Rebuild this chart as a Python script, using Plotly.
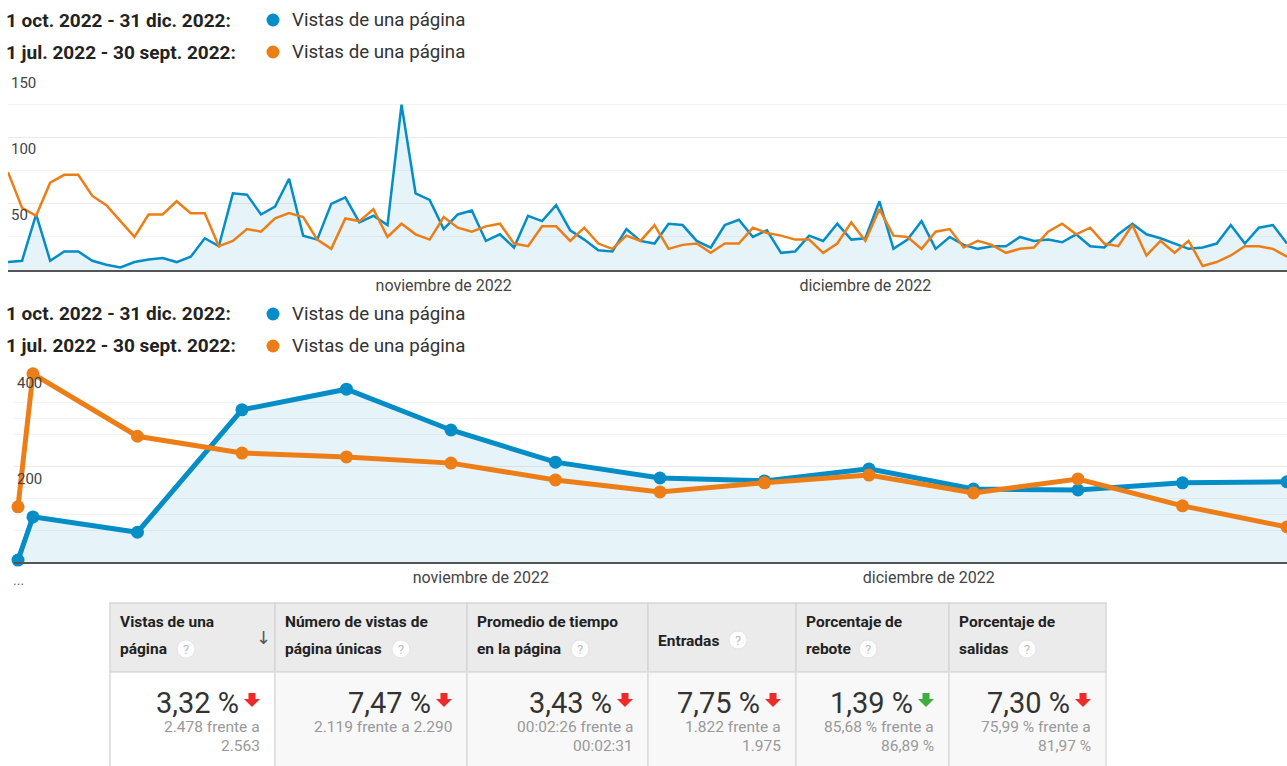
import pandas as pd
import plotly.graph_objects as go

# ---------------- data ----------------
daily_dates = pd.date_range("2022-10-01", "2022-12-31", freq="D")
blue_daily = [6, 7, 42, 7, 14, 14, 7, 4, 2, 6, 8, 9, 6, 10, 24, 18, 58, 57, 42, 48, 69, 26, 23, 50, 55, 36, 41, 34, 125, 58, 53,
              31, 42, 45, 22, 27, 17, 41, 37, 49, 30, 23, 15, 14, 31, 22, 20, 35, 34, 22, 17, 34, 38, 25, 30, 13, 14, 26, 22, 35, 23,
              24, 52, 16, 23, 37, 16, 25, 19, 16, 18, 18, 25, 22, 23, 21, 27, 18, 17, 27, 35, 27, 24, 20, 16, 17, 20, 34, 20, 32, 34, 20]
orange_daily = [74, 47, 41, 66, 72, 72, 56, 49, 37, 25, 42, 42, 52, 43, 43, 18, 22, 31, 29, 39, 43, 40, 23, 16, 39, 37, 46, 25, 35, 27, 23,
                40, 32, 29, 33, 35, 20, 18, 33, 33, 22, 32, 20, 16, 26, 22, 34, 16, 19, 20, 13, 20, 20, 32, 28, 26, 23, 23, 13, 20, 36,
                22, 46, 26, 25, 16, 29, 31, 17, 22, 19, 13, 16, 17, 29, 35, 27, 32, 20, 18, 34, 11, 22, 13, 22, 3, 6, 11, 18, 18, 16, 10]

weekly_dates = ["2022-10-01", "2022-10-02", "2022-10-09", "2022-10-16", "2022-10-23", "2022-10-30", "2022-11-06",
                "2022-11-13", "2022-11-20", "2022-11-27", "2022-12-04", "2022-12-11", "2022-12-18", "2022-12-25"]
blue_weekly = [4, 94, 62, 317, 360, 275, 208, 175, 169, 194, 152, 150, 165, 167]
orange_weekly = [115, 392, 262, 227, 219, 206, 171, 146, 165, 181, 144, 173, 117, 73]

range_current = "1 oct. 2022 - 31 dic. 2022:"
range_previous = "1 jul. 2022 - 30 sept. 2022:"
metric_name = "Vistas de una página"

top_ticks = ["2022-11-01", "2022-12-01"]
top_ticktext = ["noviembre de 2022", "diciembre de 2022"]
bottom_ticks = ["2022-11-01", "2022-12-01"]
bottom_ticktext = ["noviembre de 2022", "diciembre de 2022"]
bottom_first_tick = "2022-10-01"
bottom_first_ticktext = "..."

table_headers = [["Vistas de una", "página"], ["Número de vistas de", "página únicas"], ["Promedio de tiempo", "en la página"],
                 ["Entradas"], ["Porcentaje de", "rebote"], ["Porcentaje de", "salidas"]]
table_change = ["3,32 %", "7,47 %", "3,43 %", "7,75 %", "1,39 %", "7,30 %"]
table_current = ["2.478", "2.119", "00:02:26", "1.822", "85,68 %", "75,99 %"]
table_previous = ["2.563", "2.290", "00:02:31", "1.975", "86,89 %", "81,97 %"]
table_good = [False, False, False, False, True, False]

# ---------------- styling / layout helpers ----------------
W, H = 1287, 766
BLUE = "#058dc7"
ORANGE = "#ed7e17"
FILL = "rgba(5,141,199,0.1)"
FONT = "Roboto"


def px(x):
    return x / W


def py(y):
    return 1 - y / H


fig = go.Figure()
fig.add_trace(go.Scatter(x=daily_dates, y=blue_daily, mode="lines", line=dict(color=BLUE, width=2.5),
                         fill="tozeroy", fillcolor=FILL, xaxis="x", yaxis="y", hoverinfo="skip"))
fig.add_trace(go.Scatter(x=daily_dates, y=orange_daily, mode="lines", line=dict(color=ORANGE, width=2.5),
                         xaxis="x", yaxis="y", hoverinfo="skip"))
fig.add_trace(go.Scatter(x=weekly_dates, y=blue_weekly, mode="lines+markers", line=dict(color=BLUE, width=5),
                         marker=dict(size=13, color=BLUE), fill="tozeroy", fillcolor=FILL,
                         xaxis="x2", yaxis="y2", cliponaxis=False, hoverinfo="skip"))
fig.add_trace(go.Scatter(x=weekly_dates, y=orange_weekly, mode="lines+markers", line=dict(color=ORANGE, width=5),
                         marker=dict(size=13, color=ORANGE), xaxis="x2", yaxis="y2", cliponaxis=False, hoverinfo="skip"))

axis_font = dict(family=FONT, size=16, color="#444")
ytick_font = dict(family=FONT, size=15, color="#444")

fig.update_layout(
    width=W, height=H, margin=dict(l=0, r=0, t=0, b=0),
    paper_bgcolor="white", plot_bgcolor="white", showlegend=False,
    font=dict(family=FONT),
    xaxis=dict(domain=[px(8), 1], range=["2022-10-01", "2022-12-31"], type="date", anchor="y",
               tickvals=top_ticks, ticktext=top_ticktext, showgrid=False, showline=True,
               linecolor="#555", linewidth=2, ticks="", tickfont=axis_font, fixedrange=True),
    yaxis=dict(domain=[py(270), py(71.7)], range=[0, 150], anchor="x", tickvals=[50, 100, 150],
               ticklabelposition="inside", ticklabelshift=11, tickfont=ytick_font,
               showgrid=True, gridcolor="#ebebeb", gridwidth=1, zeroline=False, showline=False,
               minor=dict(tickvals=[25, 75, 125], showgrid=True, gridcolor="#f3f3f3"), fixedrange=True),
    xaxis2=dict(domain=[px(14), 1], range=["2022-09-30 17:34", "2022-12-25"], type="date", anchor="y2",
                tickvals=bottom_ticks, ticktext=bottom_ticktext, showgrid=False, showline=True,
                linecolor="#555", linewidth=2, ticks="", tickfont=axis_font, fixedrange=True),
    yaxis2=dict(domain=[py(562), py(370)], range=[0, 400], anchor="x2", tickvals=[200, 400],
                ticklabelposition="inside", ticklabelshift=13, tickfont=ytick_font,
                showgrid=True, gridcolor="#ebebeb", zeroline=False, showline=False,
                minor=dict(tickvals=[200 / 3, 100, 400 / 3, 800 / 3, 300, 1000 / 3], showgrid=True, gridcolor="#f3f3f3"),
                fixedrange=True),
)

annotations = []
shapes = []

# "..." first tick label of the weekly chart
annotations.append(dict(x=bottom_first_tick, y=py(580), xref="x2", yref="paper", xanchor="center", yanchor="middle",
                        text=bottom_first_ticktext, showarrow=False, font=dict(family=FONT, size=14, color="#667")))

# ----- legends -----
for y0 in (20, 314):
    for k, (lab, col) in enumerate([(range_current, BLUE), (range_previous, ORANGE)]):
        yy = y0 + 32 * k
        annotations.append(dict(x=px(4), y=py(yy), xref="paper", yref="paper", xanchor="left", yanchor="middle",
                                text=f"<b>{lab}</b>", showarrow=False, font=dict(family=FONT, size=19, color="#222")))
        shapes.append(dict(type="circle", xref="paper", yref="paper", x0=px(273 - 6.5), x1=px(273 + 6.5),
                           y0=py(yy + 6.5), y1=py(yy - 6.5), fillcolor=col, line=dict(width=0)))
        annotations.append(dict(x=px(290), y=py(yy), xref="paper", yref="paper", xanchor="left", yanchor="middle",
                                text=metric_name, showarrow=False, font=dict(family=FONT, size=18.7, color="#333")))

# ----- table -----
col_edges = [110, 275, 467, 648, 796, 949, 1106]
head_top, head_bot, body_bot = 603, 672, 766
q_pos = [(186, 649), (401, 649), (580, 649), (738, 640), (868, 649), (1027, 649)]

for c in range(6):
    x0, x1 = col_edges[c], col_edges[c + 1]
    shapes.append(dict(type="rect", xref="paper", yref="paper", x0=px(x0), x1=px(x1), y0=py(head_bot), y1=py(head_top),
                       fillcolor="#ebebeb", line=dict(color="#d6d6d6", width=1.5), layer="below"))
    shapes.append(dict(type="rect", xref="paper", yref="paper", x0=px(x0), x1=px(x1), y0=py(body_bot + 2), y1=py(head_bot),
                       fillcolor="#ffffff" if c == 0 else "#f8f8f8", line=dict(color="#dcdcdc", width=1.5), layer="below"))
    lines = table_headers[c]
    ys = [622, 649] if len(lines) == 2 else [641]
    for ln, yy in zip(lines, ys):
        annotations.append(dict(x=px(x0 + 8), y=py(yy), xref="paper", yref="paper", xanchor="left", yanchor="middle",
                                text=f"<b>{ln}</b>", showarrow=False, font=dict(family=FONT, size=15.5, color="#222")))
    qx, qy = q_pos[c]
    shapes.append(dict(type="circle", xref="paper", yref="paper", x0=px(qx - 9), x1=px(qx + 9), y0=py(qy + 9), y1=py(qy - 9),
                       fillcolor="white", line=dict(color="#e4e4e4", width=1)))
    annotations.append(dict(x=px(qx), y=py(qy), xref="paper", yref="paper", xanchor="center", yanchor="middle",
                            text="?", showarrow=False, font=dict(family=FONT, size=13, color="#bdbdbd")))
    # body
    annotations.append(dict(x=px(x1 - 34), y=py(703), xref="paper", yref="paper", xanchor="right", yanchor="middle",
                            text=table_change[c], showarrow=False, font=dict(family=FONT, size=29, color="#333")))
    ac = x1 - 23
    at = 693
    color = "#3fae3f" if table_good[c] else "#ee2b2b"
    path = (f"M {px(ac - 3.5)} {py(at)} L {px(ac + 3.5)} {py(at)} L {px(ac + 3.5)} {py(at + 6)} "
            f"L {px(ac + 8)} {py(at + 6)} L {px(ac)} {py(at + 14)} L {px(ac - 8)} {py(at + 6)} "
            f"L {px(ac - 3.5)} {py(at + 6)} Z")
    shapes.append(dict(type="path", xref="paper", yref="paper", path=path, fillcolor=color, line=dict(width=0)))
    if c == 1:
        sub = [f"{table_current[c]} frente a {table_previous[c]}"]
    else:
        sub = [f"{table_current[c]} frente a", table_previous[c]]
    for ln, yy in zip(sub, [727, 746]):
        annotations.append(dict(x=px(x1 - 13), y=py(yy), xref="paper", yref="paper", xanchor="right", yanchor="middle",
                                text=ln, showarrow=False, font=dict(family=FONT, size=15.5, color="#999")))

annotations.append(dict(x=px(263), y=py(637), xref="paper", yref="paper", xanchor="center", yanchor="middle",
                        text="↓", showarrow=False, font=dict(family="DejaVu Sans", size=18, color="#555")))

fig.update_layout(annotations=annotations, shapes=shapes)
fig.write_html("out.html", config={"displayModeBar": False},
               post_script="document.body.style.margin='0';document.body.style.overflow='hidden';")
